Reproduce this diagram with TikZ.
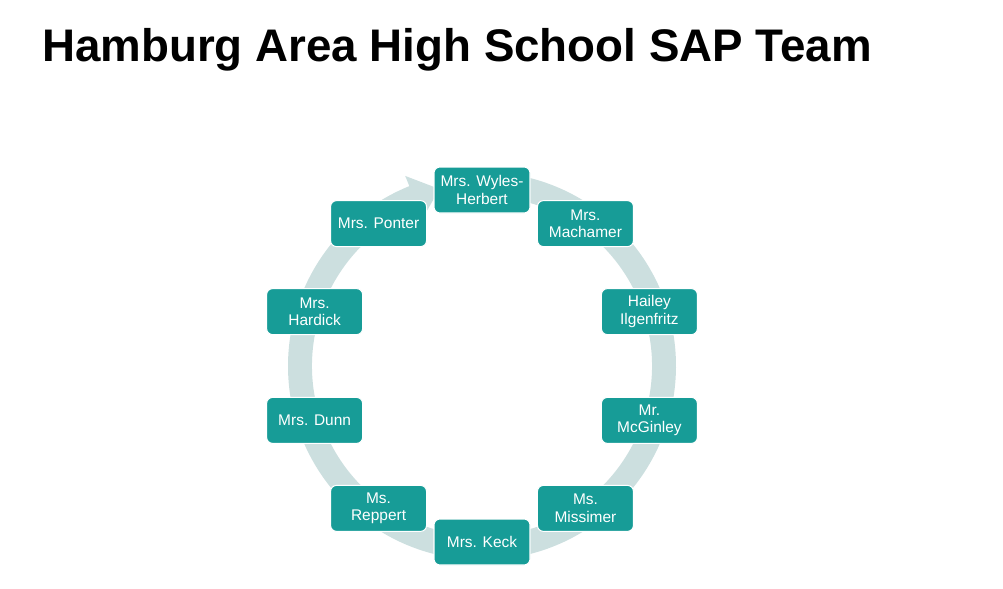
\documentclass[tikz,border=0pt]{standalone}
\usepackage{fontspec}
\setmainfont{Liberation Sans}
\usepackage{tikz}
\usetikzlibrary{calc}

\definecolor{teambox}{HTML}{179C97}
\definecolor{teamring}{HTML}{CCDFDF}

\begin{document}
\begin{tikzpicture}[
      title/.style={font=\fontsize{26}{30}\selectfont\bfseries,inner sep=0pt,
        anchor=base west},
      member/.style={draw=white,line width=0.6pt,fill=teambox,text=white,
        rounded corners=3.4pt,align=center,inner sep=0pt,
        minimum width=1.92cm,minimum height=0.92cm,
        font=\fontsize{8.8}{9.9}\selectfont},
      ring/.style={fill=teamring,draw=none}
    ]
    \useasboundingbox (0,0) rectangle (20.06,-11.78);
    \node[title] (title) at (0.84,-1.24) {Hamburg Area High School SAP Team};
    \coordinate (C) at (9.64,-7.32);
    % circular arrow behind the team, running clockwise back to the top
    \fill[ring] ($(C)+(88:3.88)$) arc[start angle=88,end angle=-248,radius=3.88]
      -- ($(C)+(112:4.10)$) -- ($(C)+(103.5:3.64)$) -- ($(C)+(112:3.18)$)
      -- ($(C)+(112:3.40)$) arc[start angle=-248,end angle=88,radius=3.40]
      -- cycle;
    % team members, one every 36 degrees
    \node[member] (wyles) at ($(C)+(90:3.52)$) {Mrs. Wyles-\\Herbert};
    \node[member] (machamer) at ($(C)+(54:3.52)$) {Mrs.\\Machamer};
    \node[member] (ilgenfritz) at ($(C)+(18:3.52)$) {Hailey\\Ilgenfritz};
    \node[member] (mcginley) at ($(C)+(-18:3.52)$) {Mr.\\McGinley};
    \node[member] (missimer) at ($(C)+(-54:3.52)$) {Ms.\\Missimer};
    \node[member] (keck) at ($(C)+(-90:3.52)$) {Mrs. Keck};
    \node[member] (reppert) at ($(C)+(-126:3.52)$) {Ms.\\Reppert};
    \node[member] (dunn) at ($(C)+(-162:3.52)$) {Mrs. Dunn};
    \node[member] (hardick) at ($(C)+(162:3.52)$) {Mrs.\\Hardick};
    \node[member] (ponter) at ($(C)+(126:3.52)$) {Mrs. Ponter};
  \end{tikzpicture}
\end{document}
